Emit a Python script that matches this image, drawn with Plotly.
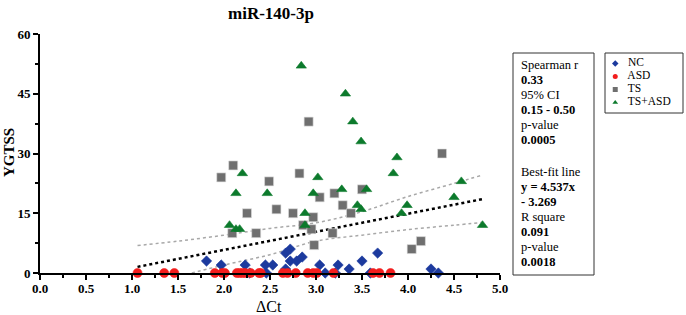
import plotly.graph_objects as go

# ---------------- data ----------------
nc_x = [1.81, 1.97, 2.23, 2.28, 2.45, 2.46, 2.53, 2.67, 2.67, 2.72, 2.72, 2.79, 2.85,
        3.04, 3.10, 3.21, 3.24, 3.36, 3.50, 3.59, 3.67, 4.25, 4.33]
nc_y = [3, 2, 2, 0, 2, 0, 2, 5, 1, 6, 3, 3, 4,
        2, 0, 0, 2, 1, 3, 0, 5, 1, 0]

asd_x = [1.06, 1.35, 1.46, 1.90, 1.98, 2.01, 2.14, 2.17, 2.20, 2.23, 2.29, 2.38, 2.40,
         2.64, 2.69, 2.78, 2.91, 2.97, 3.01, 3.19, 3.62, 3.69, 3.81]
asd_y = [0] * len(asd_x)

ts_x = [1.97, 2.10, 2.09, 2.25, 2.35, 2.49, 2.57, 2.75, 2.82, 2.86, 2.92, 2.95, 2.97,
        2.98, 3.04, 3.18, 3.20, 3.29, 3.38, 3.50, 4.04, 4.14, 4.37]
ts_y = [24, 27, 10, 15, 10, 23, 16, 15, 25, 12, 38, 11, 14,
        7, 19, 10, 20, 17, 15, 21, 6, 8, 30]

tsasd_x = [2.06, 2.13, 2.17, 2.13, 2.20, 2.47, 2.84, 2.88, 2.88, 2.97, 3.02, 3.28, 3.32,
           3.40, 3.45, 3.49, 3.49, 3.55, 3.84, 3.88, 3.93, 3.99, 4.50, 4.58, 4.81]
tsasd_y = [12, 11, 11, 20, 25, 20, 52, 15, 12, 20, 24, 21, 45,
           38, 17, 16, 33, 21, 25, 29, 15, 17, 19, 23, 12]

# best-fit line (reported) and its 95% confidence band
fit_slope = 4.537
fit_intercept = -3.269
fit_x = [1.06, 4.81]
ci_up_x = [1.06, 1.5, 2.0, 2.5, 3.0, 3.5, 4.0, 4.5, 4.81]
ci_up_y = [6.9, 8.0, 9.5, 11.2, 12.6, 15.4, 19.2, 22.5, 24.6]
ci_lo_x = [1.65, 2.0, 2.5, 3.0, 3.5, 4.0, 4.5, 4.81]
ci_lo_y = [0.0, 2.0, 4.6, 8.0, 9.5, 10.9, 12.0, 12.7]

x_ticks = [0.0, 0.5, 1.0, 1.5, 2.0, 2.5, 3.0, 3.5, 4.0, 4.5, 5.0]
y_ticks = [0, 15, 30, 45, 60]

stats_lines = [("Spearman r", False), ("0.33", True), ("95% CI", False), ("0.15 - 0.50", True),
               ("p-value", False), ("0.0005", True), ("", False), ("Best-fit line", False),
               ("y = 4.537x", True), ("- 3.269", True), ("R square", False), ("0.091", True),
               ("p-value", False), ("0.0018", True)]

legend_names = ["NC", "ASD", "TS", "TS+ASD"]
legend_colors = ["#1c3a9e", "#f21d1d", "#6f6f6f", "#0c7a2c"]
legend_symbols = ["diamond", "circle", "square", "triangle-up"]

# ---------------- figure ----------------
SERIF = "Liberation Serif"
W, H = 686, 315
L, R, T, B = 40, 3, 34, 42
PLOT_RIGHT = 500          # pixel where x = 5.0
pw, ph = W - L - R, H - T - B

def px2paper(px, py):
    return (px - L) / pw, (H - B - py) / ph

fig = go.Figure()

fit_y = [fit_slope * v + fit_intercept for v in fit_x]
fig.add_trace(go.Scatter(x=ci_up_x, y=ci_up_y, mode="lines", showlegend=False,
                         line=dict(color="#a8a8a8", width=1.5, dash="dot", shape="spline"),
                         hoverinfo="skip"))
fig.add_trace(go.Scatter(x=ci_lo_x, y=ci_lo_y, mode="lines", showlegend=False,
                         line=dict(color="#a8a8a8", width=1.5, dash="dot", shape="spline"),
                         hoverinfo="skip"))
fig.add_trace(go.Scatter(x=fit_x, y=fit_y, mode="lines", showlegend=False,
                         line=dict(color="black", width=2.5, dash="dot"), hoverinfo="skip"))

series = [(nc_x, nc_y, 8), (asd_x, asd_y, 9), (ts_x, ts_y, 9), (tsasd_x, tsasd_y, 9)]
for (sx, sy, sz), name, col, sym in zip(series, legend_names, legend_colors, legend_symbols):
    fig.add_trace(go.Scatter(x=sx, y=sy, mode="markers", name=name, showlegend=False,
                             cliponaxis=False,
                             marker=dict(color=col, symbol=sym, size=sz,
                                         line=dict(width=0.6, color="#dddddd" if name == "TS" else col))))

# manual legend drawn on a small helper axis inside the legend box
fig.add_trace(go.Scatter(x=[0] * 4, y=list(range(4)), mode="markers+text",
                         xaxis="x2", yaxis="y2", showlegend=False, hoverinfo="skip",
                         text=["   " + n for n in legend_names], textposition="middle right",
                         textfont=dict(family=SERIF, size=11.5, color="black"),
                         marker=dict(color=legend_colors, symbol=legend_symbols, size=5)))

lx0, ly0 = px2paper(605, 113)
lx1, ly1 = px2paper(683, 53)
fig.add_shape(type="rect", xref="paper", yref="paper", x0=lx0, y0=ly0, x1=lx1, y1=ly1,
              line=dict(color="#333333", width=1))

sx0, sy0 = px2paper(513, 275)
sx1, sy1 = px2paper(594, 53)
fig.add_shape(type="rect", xref="paper", yref="paper", x0=sx0, y0=sy0, x1=sx1, y1=sy1,
              line=dict(color="#333333", width=1))

for i, (txt, bold) in enumerate(stats_lines):
    if not txt:
        continue
    py = 65 + i * 15 + (2 if i >= 7 else 0)
    ax, ay = px2paper(519, py)
    fig.add_annotation(x=ax, y=ay, xref="paper", yref="paper", text=txt, showarrow=False,
                       xanchor="left", yanchor="middle",
                       font=dict(family=SERIF, size=12.5, color="black",
                                 weight="bold" if bold else "normal"))

# axis titles placed as annotations for exact positioning
yt_x, yt_y = px2paper(9, 153)
fig.add_annotation(x=yt_x, y=yt_y, xref="paper", yref="paper", text="YGTSS", showarrow=False,
                   textangle=-90, xanchor="center", yanchor="middle",
                   font=dict(family=SERIF, size=15, color="black", weight="bold"))
xt_x, xt_y = px2paper(269, 306)
fig.add_annotation(x=xt_x, y=xt_y, xref="paper", yref="paper", text="ΔCt", showarrow=False,
                   xanchor="center", yanchor="middle",
                   font=dict(family=SERIF, size=16, color="black"))

lgx0, lgy0 = px2paper(612, 109)
lgx1, lgy1 = px2paper(680, 57)
main_right, _ = px2paper(PLOT_RIGHT, 0)
fig.update_layout(
    width=W, height=H,
    margin=dict(l=L, r=R, t=T, b=B),
    paper_bgcolor="white", plot_bgcolor="white",
    title=dict(text="miR-140-3p", x=271 / W, xanchor="center", y=1 - 13 / H, yanchor="middle",
               font=dict(family=SERIF, size=17, color="black", weight="bold")),
    xaxis=dict(domain=[0, main_right], range=[0, 5], tickvals=x_ticks,
               ticktext=[f"{v:.1f}" for v in x_ticks], automargin=False,
               showgrid=False, zeroline=False, showline=True, linecolor="black", linewidth=2,
               ticks="outside", ticklen=5, tickwidth=1.5, tickcolor="black",
               ticklabelstandoff=-3,
               minor=dict(dtick=0.25, tick0=0, ticks="outside", ticklen=3, tickcolor="black", tickwidth=1.5),
               tickfont=dict(family=SERIF, size=13, color="black", weight="bold")),
    yaxis=dict(range=[0, 60], tickvals=y_ticks, showgrid=False, zeroline=False, automargin=False,
               showline=True, linecolor="black", linewidth=2,
               ticks="outside", ticklen=5, tickwidth=1.5, tickcolor="black",
               minor=dict(dtick=7.5, tick0=0, ticks="outside", ticklen=3, tickcolor="black", tickwidth=1.5),
               tickfont=dict(family=SERIF, size=13, color="black", weight="bold")),
    xaxis2=dict(domain=[lgx0, lgx1], range=[-0.5, 10], visible=False, anchor="y2", fixedrange=True),
    yaxis2=dict(domain=[lgy0, lgy1], range=[3.5, -0.5], visible=False, anchor="x2", fixedrange=True),
    showlegend=False,
)

fig.write_html("out.html", post_script="document.body.style.margin='0';",
               config={"displayModeBar": False})
